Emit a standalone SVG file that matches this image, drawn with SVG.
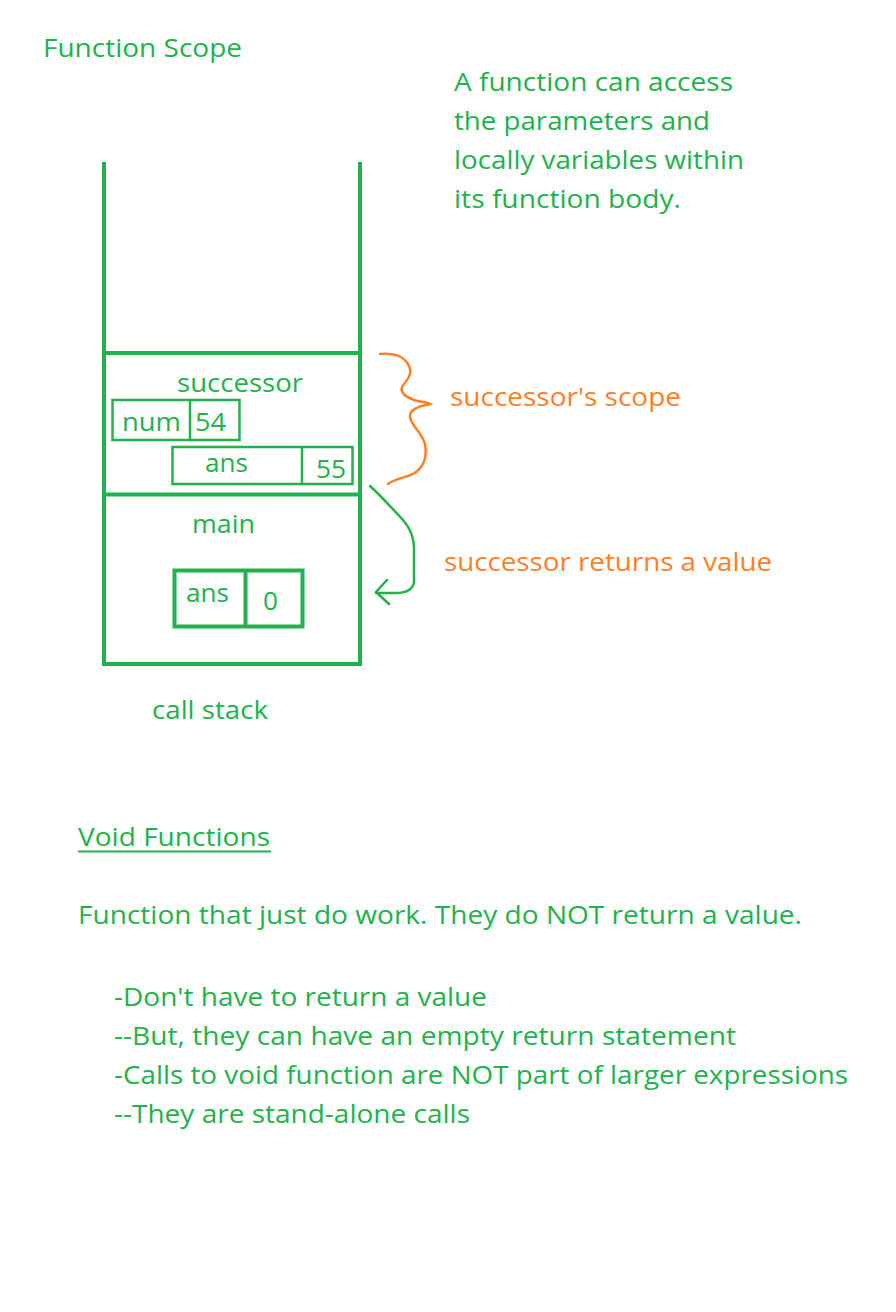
<svg xmlns="http://www.w3.org/2000/svg" width="896" height="1312" viewBox="0 0 896 1312">
<style>
text{font-family:"Open Sans","Liberation Sans",sans-serif;font-size:25px;fill:#22b14c}
.o{fill:#ff7f27}
.g{stroke:#22b14c;fill:none}
.thick{stroke-width:4}
.thin{stroke-width:2.5}
</style>
<rect width="896" height="1312" fill="#fff"/>
<text x="43" y="57" textLength="199" lengthAdjust="spacingAndGlyphs">Function Scope</text>
<g id="note">
<text x="454" y="91" textLength="279" lengthAdjust="spacingAndGlyphs">A function can access</text>
<text x="454" y="130" textLength="256" lengthAdjust="spacingAndGlyphs">the parameters and</text>
<text x="454" y="169" textLength="290" lengthAdjust="spacingAndGlyphs">locally variables within</text>
<text x="454" y="208" textLength="227" lengthAdjust="spacingAndGlyphs">its function body.</text>
</g>
<g id="stack">
<path class="g thick" d="M104,162V665M360,162V665M102,353H362M102,494.5H362M102,664H362"/>
<text x="152" y="719" textLength="116" lengthAdjust="spacingAndGlyphs">call stack</text>
</g>
<g id="successor">
<text x="177" y="392" textLength="126" lengthAdjust="spacingAndGlyphs">successor</text>
<rect class="g thin" x="112.5" y="400" width="127" height="40"/>
<path class="g thin" d="M190,400V440"/>
<text x="122" y="431" textLength="59" lengthAdjust="spacingAndGlyphs">num</text>
<text x="195" y="431" textLength="31" lengthAdjust="spacingAndGlyphs">54</text>
<rect class="g thin" x="172.5" y="447" width="180" height="37"/>
<path class="g thin" d="M302,447V484"/>
<text x="205" y="472" textLength="43" lengthAdjust="spacingAndGlyphs">ans</text>
<text x="316" y="478" textLength="30" lengthAdjust="spacingAndGlyphs">55</text>
</g>
<g id="main">
<text x="192" y="533" textLength="63" lengthAdjust="spacingAndGlyphs">main</text>
<rect class="g thick" x="174.5" y="570.5" width="128" height="56"/>
<path class="g thick" d="M245.5,570V627"/>
<text x="186" y="602" textLength="43" lengthAdjust="spacingAndGlyphs">ans</text>
<text x="263" y="610" textLength="15" lengthAdjust="spacingAndGlyphs">0</text>
</g>
<g id="connectors">
<path d="M380,354C395,353 403,356 408,364C413,372 409,378 404,384C398,391 404,396 414,400C420,402 427,402 430,404C422,406 410,408 410,416C410,425 422,432 425,444C427,456 424,466 416,472C408,478 395,478 388,484" fill="none" stroke="#ff7f27" stroke-width="2.5" stroke-linecap="round"/>
<path d="M370,486C380,495 392,508 403,520C410,528 414,538 414,548V583C412,590 405,593 396,593H376M387,580L376,592L389,604" fill="none" stroke="#22b14c" stroke-width="2.5" stroke-linecap="round" stroke-linejoin="round"/>
</g>
<text class="o" x="450" y="406" textLength="231" lengthAdjust="spacingAndGlyphs">successor's scope</text>
<text class="o" x="444" y="571" textLength="328" lengthAdjust="spacingAndGlyphs">successor returns a value</text>
<g id="void">
<text x="78" y="846" textLength="192" lengthAdjust="spacingAndGlyphs">Void Functions</text>
<path d="M78,851.5H271" stroke="#22b14c" stroke-width="2"/>
<text x="78" y="924" textLength="724" lengthAdjust="spacingAndGlyphs">Function that just do work. They do NOT return a value.</text>
<text x="114" y="1006" textLength="373" lengthAdjust="spacingAndGlyphs">-Don't have to return a value</text>
<text x="114" y="1045" textLength="622" lengthAdjust="spacingAndGlyphs">--But, they can have an empty return statement</text>
<text x="114" y="1084" textLength="734" lengthAdjust="spacingAndGlyphs">-Calls to void function are NOT part of larger expressions</text>
<text x="114" y="1123" textLength="356" lengthAdjust="spacingAndGlyphs">--They are stand-alone calls</text>
</g>
</svg>
